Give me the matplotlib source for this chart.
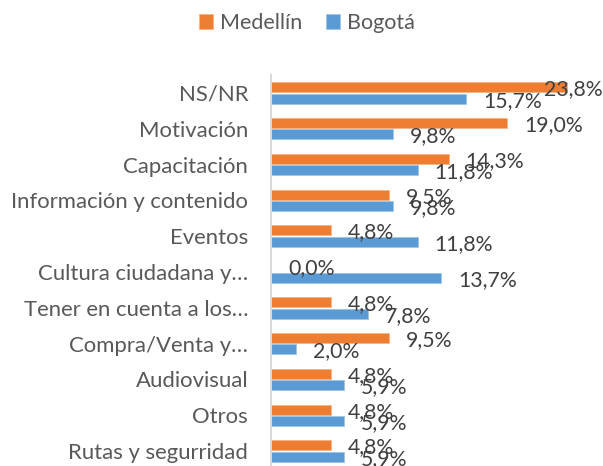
import matplotlib.pyplot as plt
import numpy as np

plt.rcParams['font.family'] = ['Lato', 'DejaVu Sans']

categorias = ['NS/NR', 'Motivación', 'Capacitación', 'Información y contenido',
              'Eventos', 'Cultura ciudadana y…', 'Tener en cuenta a los…',
              'Compra/Venta y…', 'Audiovisual', 'Otros', 'Rutas y segurridad']
medellin = [23.8, 19.0, 14.3, 9.5, 4.8, 0.0, 4.8, 9.5, 4.8, 4.8, 4.8]
bogota = [15.7, 9.8, 11.8, 9.8, 11.8, 13.7, 7.8, 2.0, 5.9, 5.9, 5.9]

naranja = '#ED7D31'
azul = '#5B9BD5'

fig = plt.figure(figsize=(6.03, 4.66), dpi=100)
ax = fig.add_axes([271 / 603, 1 - 469 / 466, 310.5 / 603, 394 / 466])

y = np.arange(len(categorias))
h = 0.28
off = 0.16
b1 = ax.barh(y - off, medellin, height=h, color=naranja, edgecolor='#F4B183',
             linewidth=0.5, label='Medellín')
b2 = ax.barh(y + off, bogota, height=h, color=azul, edgecolor='#9DC3E6',
             linewidth=0.5, label='Bogotá')

ax.set_xlim(0, 25)
ax.set_ylim(len(categorias) - 0.5, -0.5)
ax.set_yticks(y)
ax.set_yticklabels(categorias, fontsize=15.9, color='#595959')
ax.tick_params(axis='y', length=0, pad=16.5)
ax.set_xticks([])
for s in ['top', 'right', 'bottom']:
    ax.spines[s].set_visible(False)
ax.spines['left'].set_color('#D9D9D9')
ax.spines['left'].set_linewidth(1.5)

def etiqueta(v, yy):
    txt = f'{v:.1f}%'.replace('.', ',')
    if v > 21:
        ax.annotate(txt, xy=(0.999, yy), xycoords=('figure fraction', 'data'),
                    xytext=(0, -1.5), textcoords='offset points',
                    ha='right', va='center', fontsize=15.3, color='#404040')
    else:
        ax.annotate(txt, xy=(v, yy), xytext=(12.2, -1.5), textcoords='offset points',
                    ha='left', va='center', fontsize=15.3, color='#404040',
                    annotation_clip=False)

for i in range(len(categorias)):
    etiqueta(medellin[i], y[i] - off)
    etiqueta(bogota[i], y[i] + off)

fig.legend(handles=[b1, b2], loc='center', bbox_to_anchor=(307 / 603, 1 - 23 / 466),
           ncol=2, frameon=False, fontsize=15.5, handlelength=0.65, handleheight=0.65,
           handletextpad=0.34, columnspacing=1.1, labelcolor='#595959')

fig.savefig('out.png', dpi=100)
